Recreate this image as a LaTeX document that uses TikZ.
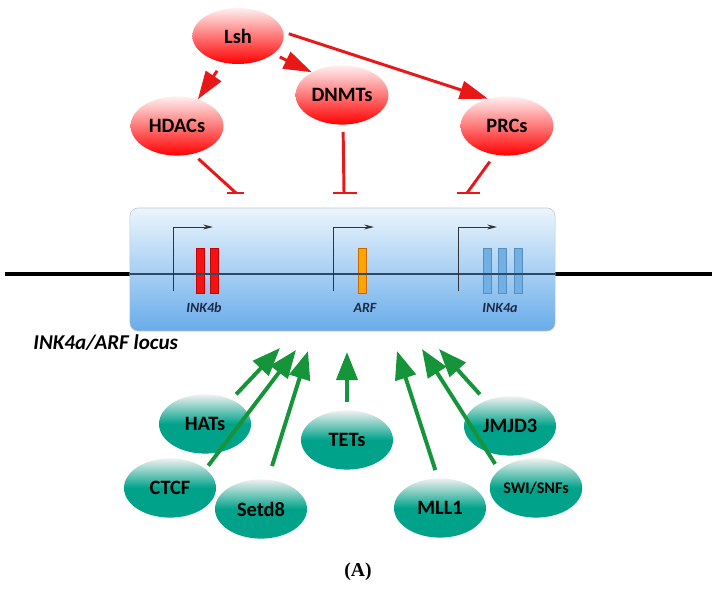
\documentclass[tikz,border=0pt]{standalone}
\usepackage{fontspec}
\setmainfont{Carlito}
\newfontfamily\capfont{Liberation Serif}
\usetikzlibrary{shapes,arrows.meta,positioning}

\definecolor{lshred}{RGB}{255,0,0}
\definecolor{inhred}{RGB}{232,24,24}
\definecolor{actgreen}{RGB}{22,148,58}
\definecolor{tealfill}{RGB}{0,163,138}
\definecolor{locustop}{RGB}{236,245,253}
\definecolor{locusbot}{RGB}{104,172,234}
\definecolor{genetext}{RGB}{30,40,72}
\definecolor{chromin}{RGB}{48,72,98}
\definecolor{exred}{RGB}{240,20,20}
\definecolor{exorange}{RGB}{255,165,0}
\definecolor{exblue}{RGB}{112,176,230}

\begin{document}
\begin{tikzpicture}[x=0.025cm, y=-0.025cm]
    \tikzstyle{redenz} = [ellipse, minimum width=2.32cm, minimum height=1.48cm, inner sep=0pt, top color=red!6, bottom color=lshred, font=\fontsize{14.5}{16}\selectfont\bfseries]
    \tikzstyle{greenenz} = [ellipse, minimum width=2.3cm, minimum height=1.48cm, inner sep=0pt, top color=gray!12, bottom color=tealfill, middle color=tealfill, font=\fontsize{14.5}{16}\selectfont\bfseries]
    \tikzstyle{activ} = [draw=inhred, line width=2.1pt, -{Triangle[length=20pt,width=13pt]}, shorten <=4pt]
    \tikzstyle{repress} = [draw=inhred, line width=2.1pt, shorten <=5pt]
    \tikzstyle{recruit} = [draw=actgreen, line width=2.8pt, -{Triangle[length=20pt,width=15pt]}, shorten <=5pt]
    \tikzstyle{exon} = [draw, line width=0.5pt, minimum width=0.2cm, minimum height=1.125cm, inner sep=0pt]
    \tikzstyle{genelabel} = [font=\fontsize{10}{12}\selectfont\bfseries\itshape, text=genetext]
    \tikzstyle{tss} = [draw=black!80, line width=0.7pt, -{Stealth[length=7pt,width=3.5pt]}]

    \useasboundingbox (0,0) rectangle (716,591);

    % Chromosome and locus
    \draw[line width=2.2pt] (5,274) -- (712,274);
    \node[draw=gray!45, rounded corners=0.2cm, minimum width=10.625cm, minimum height=3.075cm, top color=locustop, bottom color=locusbot] (locus) at (342.5,269.5) {};

    % Exons
    \node[exon, fill=exred, draw=red!80!black] (b1) at (200.5,270.5) {};
    \node[exon, fill=exred, draw=red!80!black] (b2) at (214,270.5) {};
    \node[exon, fill=exorange, draw=orange!80!black] (arf) at (362.5,270.5) {};
    \node[exon, fill=exblue, draw=exblue!80!black] (a1) at (487,270.5) {};
    \node[exon, fill=exblue, draw=exblue!80!black] (a2) at (502,270.5) {};
    \node[exon, fill=exblue, draw=exblue!80!black] (a3) at (518,270.5) {};
    \draw[chromin, line width=2pt] (130,274) -- (555,274);

    % Promoters
    \draw[tss] (173,291) |- (213,227);
    \draw[tss] (333,291) |- (374,227);
    \draw[tss] (458,291) |- (497,227);

    % Gene labels
    \node[genelabel] (lb) at (204,308) {INK4b};
    \node[genelabel] (lf) at (365,308) {ARF};
    \node[genelabel] (la) at (500,308) {INK4a};
    \node[anchor=east, font=\fontsize{15}{17}\selectfont\bfseries\itshape] (locuslabel) at (183,343) {INK4a/ARF locus};

    % Repressors
    \node[redenz, minimum width=2.28cm, minimum height=1.4cm] (lsh) at (238,36) {Lsh};
    \node[redenz] (hdacs) at (177,126) {HDACs};
    \node[redenz] (dnmts) at (342,95) {DNMTs};
    \node[redenz] (prcs) at (507,126) {PRCs};

    \draw[activ, shorten <=7pt] (lsh.240) -- (hdacs.52);
    \draw[activ, shorten <=5pt] (lsh.333) -- (dnmts.143);
    \draw[activ] (lsh.5) -- (prcs.125);

    \coordinate (th) at (236,193);
    \coordinate (td) at (344,193);
    \coordinate (tp) at (467,193);
    \draw[repress] (hdacs.300) -- (th);
    \draw[repress] (dnmts.272) -- (td);
    \draw[repress, shorten <=6pt] (prcs.247) -- (tp);
    \draw[inhred, line width=2.1pt] (227,193) -- (244,193);
    \draw[inhred, line width=2.1pt] (333,193) -- (357,193);
    \draw[inhred, line width=2.1pt] (457,193) -- (480,193);

    % Activators
    \node[greenenz] (hats) at (205,424) {HATs};
    \node[greenenz] (ctcf) at (170,488) {CTCF};
    \node[greenenz] (setd8) at (261,509) {Setd8};
    \node[greenenz] (tets) at (347,440) {TETs};
    \node[greenenz] (mll1) at (440,508) {MLL1};
    \node[greenenz] (jmjd3) at (510,426) {JMJD3};
    \node[greenenz, font=\fontsize{11.5}{13}\selectfont\bfseries] (swisnf) at (536,488) {SWI/SNFs};

    \coordinate (gh) at (280,348);
    \coordinate (gc) at (296,350);
    \coordinate (gs) at (308,351);
    \coordinate (gt) at (347,352);
    \coordinate (gm) at (397,351);
    \coordinate (gw) at (422,349);
    \coordinate (gj) at (439,349);
    \draw[recruit] (hats.43) -- (gh);
    \draw[recruit, shorten <=3pt] (ctcf.28) -- (gc);
    \draw[recruit, shorten <=10pt] (setd8.77) -- (gs);
    \draw[recruit, shorten <=6pt] (tets.90) -- (gt);
    \draw[recruit, shorten <=6pt] (mll1.94) -- (gm);
    \draw[recruit] (swisnf.154) -- (gw);
    \draw[recruit, shorten <=6pt] (jmjd3.134) -- (gj);

    % Panel label
    \node[font=\capfont\fontsize{14}{16}\selectfont\bfseries] (panel) at (358,572) {(A)};
\end{tikzpicture}
\end{document}
